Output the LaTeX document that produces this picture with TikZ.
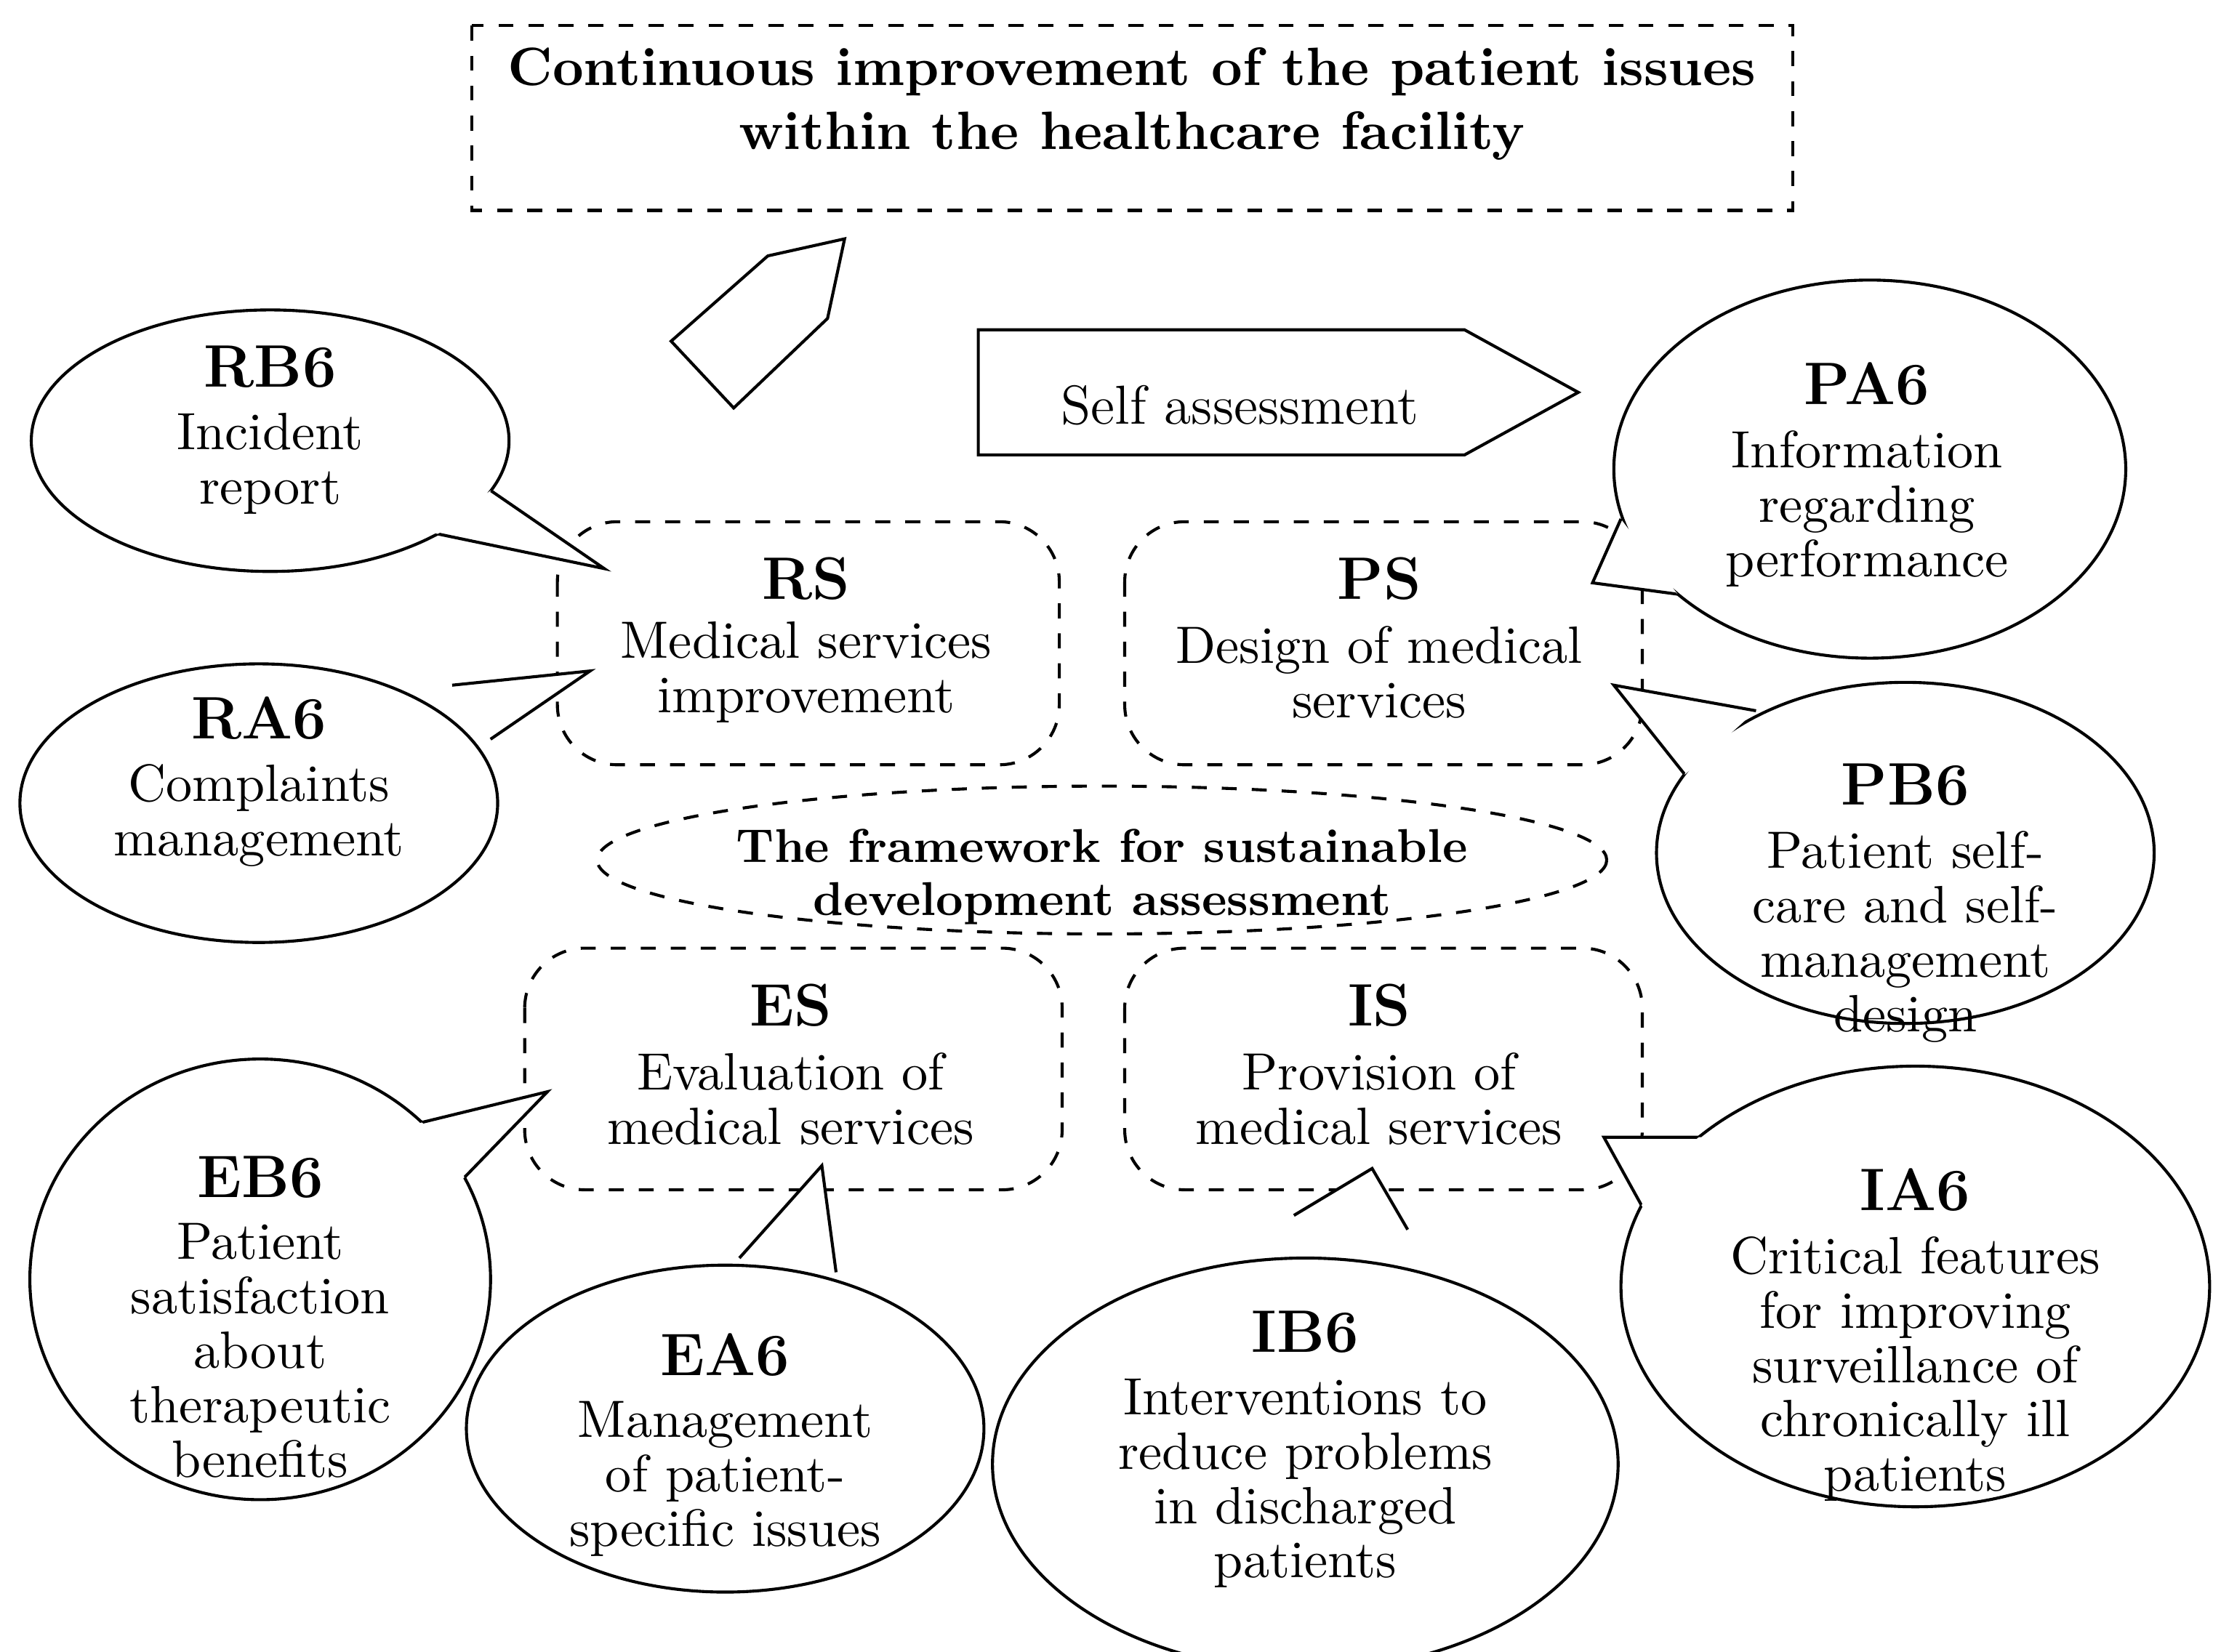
\documentclass[tikz,border=0pt]{standalone}
\usetikzlibrary{calc}
\begin{document}
\begin{tikzpicture}[x=0.01cm,y=-0.01cm,line width=0.6pt,
 box/.style={draw,dashed,rounded corners=12pt},
 lab/.style={align=center,font=\fontsize{10.5}{10.9}\selectfont},
 bl/.style={align=center,font=\bfseries\fontsize{12}{13}\selectfont}]
\useasboundingbox (0,0) rectangle (1562,1162);
% title
\draw[dashed] (332,18) rectangle (1261,148);
\node[align=center,font=\bfseries\fontsize{10.8}{12.8}\selectfont] (t) at (796,73) {Continuous improvement of the patient issues\\within the healthcare facility};
\draw (472,240) -- (540,180) -- (594,168) -- (582,224) -- (516,287) -- cycle;
\draw (688,232) -- (1030,232) -- (1110,276) -- (1030,320) -- (688,320) -- cycle;
\node[lab,font=\fontsize{11}{12}\selectfont] (sa) at (872,285) {Self assessment};
% boxes
\draw[box] (392,367) rectangle (745,538);
\draw[box] (791,367) rectangle (1155,538);
\draw[box] (369,667) rectangle (747,837);
\draw[box] (791,667) rectangle (1155,837);
\draw[dashed] (775,605) ellipse [x radius=355,y radius=52];
\node[align=center,font=\bfseries\fontsize{9.5}{10.6}\selectfont] (fw) at (775,617) {The framework for sustainable\\development assessment};
\node[bl] (rs) at (567,407) {RS};
\node[lab] (rst) at (567,473) {Medical services\\improvement};
\node[bl] (ps) at (970,407) {PS};
\node[lab] (pst) at (970,473) {Design of medical\\services};
\node[bl] (es) at (556,707) {ES};
\node[lab] (est) at (556,773) {Evaluation of\\medical services};
\node[bl] (is) at (970,707) {IS};
\node[lab] (ist) at (970,773) {Provision of\\medical services};
% callouts
\newcommand{\callout}[9]{%
 \fill[white] (#4) -- (#5) -- (#6) -- cycle;
 \draw (#4) -- (#5) -- (#6);
 \fill[white] (#1) ellipse [x radius=#2,y radius=#3];
 \begin{scope}[even odd rule]
 \clip (-100,-100) rectangle (1700,1300) (#4) -- (#5) -- (#6) -- cycle;
 \draw (#1) ellipse [x radius=#2,y radius=#3];
 \end{scope}
 \node[bl] at (#7) {#8};
 \node[lab,anchor=north] at ($(#7)+(0,20)$) {#9};}
\callout{190,310}{168}{92}{305,375}{425,400}{345,345}{190,258}{RB6}{Incident\\report}
\callout{182,565}{168}{98}{318,482}{415,472}{345,520}{182,505}{RA6}{Complaints\\management}
\callout{1315,330}{180}{133}{1140,365}{1120,410}{1180,418}{1313,270}{PA6}{Information\\regarding\\performance}
\callout{1340,600}{175}{120}{1185,545}{1135,482}{1235,500}{1340,552}{PB6}{Patient self-\\care and self-\\management\\design}
\callout{183,900}{162}{155}{295,790}{385,768}{325,830}{183,828}{EB6}{Patient\\satisfaction\\about\\therapeutic\\benefits}
\callout{510,1005}{182}{115}{520,885}{578,820}{588,895}{510,953}{EA6}{Management\\of patient-\\specific issues}
\callout{918,1030}{220}{145}{910,855}{965,822}{990,865}{918,937}{IB6}{Interventions to\\reduce problems\\in discharged\\patients}
\callout{1347,905}{207}{155}{1200,800}{1128,800}{1160,858}{1347,837}{IA6}{Critical features\\for improving\\surveillance of\\chronically ill\\patients}
\end{tikzpicture}
\end{document}
